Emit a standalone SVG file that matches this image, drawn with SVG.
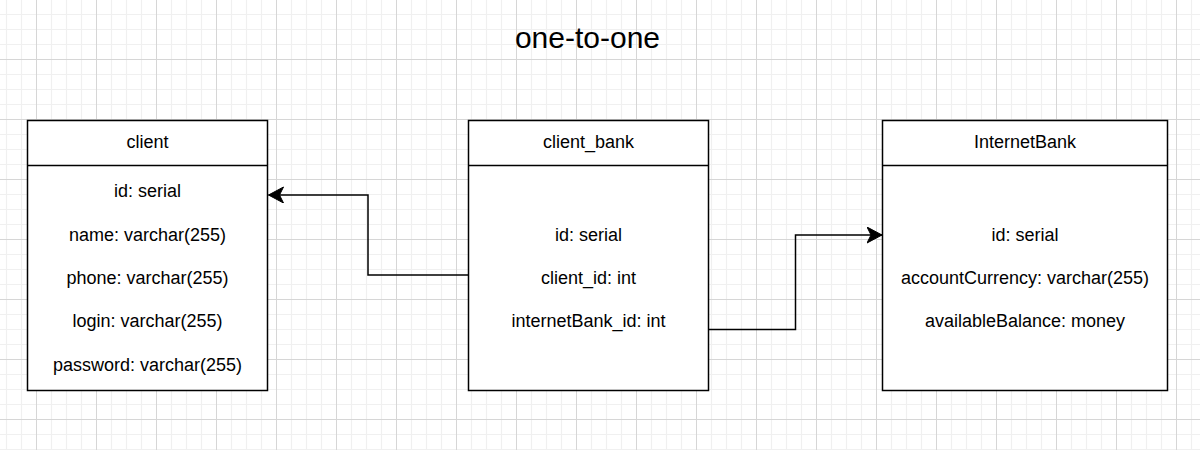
<svg xmlns="http://www.w3.org/2000/svg" width="1200" height="450" viewBox="0 0 1200 450">
<style>
.box{fill:#ffffff;stroke:#000000;stroke-width:1.5}
.sep{stroke:#000000;stroke-width:1.5}
.t{font-family:"Liberation Sans",Arial,sans-serif;font-size:18px;fill:#000000;text-anchor:middle}
.title{font-family:"Liberation Sans",Arial,sans-serif;font-size:30px;fill:#000000;text-anchor:middle}
.edge{fill:none;stroke:#000000;stroke-width:1.5}
</style>
<defs>
<pattern id="grid" patternUnits="userSpaceOnUse" x="36" y="59" width="60" height="60">
<path d="M15.5 0V60M30.5 0V60M45.5 0V60M0 15.5H60M0 30.5H60M0 45.5H60" stroke="#f0f0f0" stroke-width="1.2" fill="none"/>
<path d="M0.5 0V60M0 0.5H60" stroke="#d6d6d6" stroke-width="1" fill="none"/>
</pattern>
<marker id="arrow" markerUnits="userSpaceOnUse" markerWidth="16" markerHeight="18" refX="15" refY="8" orient="auto">
<path d="M15 8L0 0L4 8L0 16Z" fill="#000000" stroke="#000000" stroke-width="1"/>
</marker>
</defs>
<rect x="0" y="0" width="1200" height="450" fill="#ffffff"/>
<rect x="0" y="0" width="1200" height="450" fill="url(#grid)"/>
<text class="title" x="587.5" y="48">one-to-one</text>
<g id="connectors">
<path class="edge" d="M468 275H368V195H268.5" marker-end="url(#arrow)"/>
<path class="edge" d="M708 329.5H795.5V235H882" marker-end="url(#arrow)"/>
</g>
<g id="client">
<rect class="box" x="27.5" y="120.5" width="240" height="270"/>
<line class="sep" x1="27.5" y1="165.5" x2="267.5" y2="165.5"/>
<text class="t" x="147.5" y="148">client</text>
<text class="t" x="147.5" y="196.5">id: serial</text>
<text class="t" x="147.5" y="240.5">name: varchar(255)</text>
<text class="t" x="147.5" y="283.5">phone: varchar(255)</text>
<text class="t" x="147.5" y="327">login: varchar(255)</text>
<text class="t" x="147.5" y="370.5">password: varchar(255)</text>
</g>
<g id="client_bank">
<rect class="box" x="468.5" y="120.5" width="240" height="270"/>
<line class="sep" x1="468.5" y1="165.5" x2="708.5" y2="165.5"/>
<text class="t" x="588.5" y="148">client_bank</text>
<text class="t" x="588.5" y="240.5">id: serial</text>
<text class="t" x="588.5" y="283.5">client_id: int</text>
<text class="t" x="588.5" y="327">internetBank_id: int</text>
</g>
<g id="InternetBank">
<rect class="box" x="882.5" y="120.5" width="285" height="270"/>
<line class="sep" x1="882.5" y1="165.5" x2="1167.5" y2="165.5"/>
<text class="t" x="1025" y="148">InternetBank</text>
<text class="t" x="1025" y="240.5">id: serial</text>
<text class="t" x="1025" y="283.5">accountCurrency: varchar(255)</text>
<text class="t" x="1025" y="327">availableBalance: money</text>
</g>
</svg>
